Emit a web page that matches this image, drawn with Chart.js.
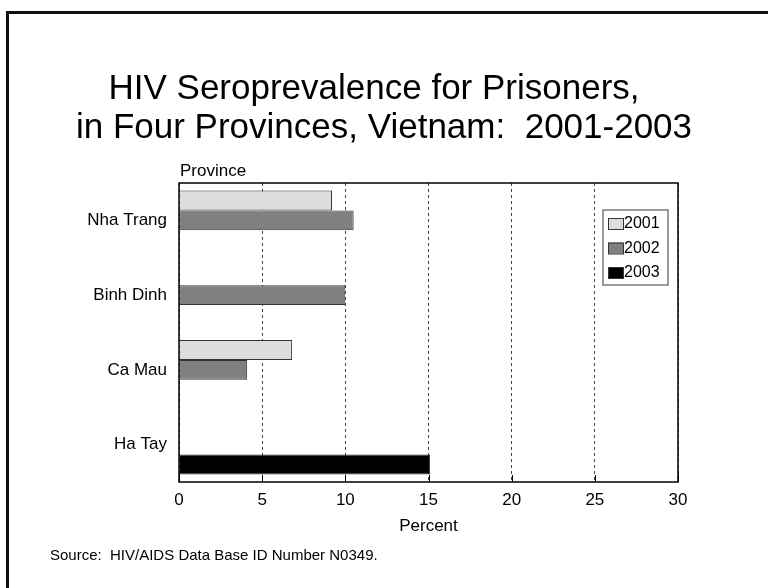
<!DOCTYPE html>
<html>
<head>
<meta charset="utf-8">
<script src="https://cdn.jsdelivr.net/npm/chart.js@4.4.1/dist/chart.umd.min.js"></script>
<style>
    html, body { margin: 0; padding: 0; background: #fff; }
    body { width: 768px; height: 588px; position: relative; overflow: hidden; font-family: "Liberation Sans", Arial, sans-serif; }
    .frame { position: absolute; left: 6px; top: 11px; width: 900px; height: 700px; border-left: 3px solid #111; border-top: 3px solid #111; }
    canvas { position: absolute; left: 0; top: 0; }
</style>
</head>
<body>
<div class="frame"></div>
<canvas id="chart" width="768" height="588"></canvas>
<script>
const provinces = ['Nha Trang', 'Binh Dinh', 'Ca Mau', 'Ha Tay'];
const years = ['2001', '2002', '2003'];
const pct2001 = [9.2, null, 6.8, null];
const pct2002 = [10.5, 10.0, 4.1, null];
const pct2003 = [null, null, null, 15.1];
const xTicks = [0, 5, 10, 15, 20, 25, 30];

const titleLines = ['HIV Seroprevalence for Prisoners,', 'in Four Provinces, Vietnam:  2001-2003'];
const sourceNote = 'Source:  HIV/AIDS Data Base ID Number N0349.';

const fills = ['#dddddd', '#808080', '#000000'];
const font = '"Liberation Sans", Arial, sans-serif';

// title, "Province" caption, source note, solid plot frame, inner tick marks, boxed legend
const decorations = {
    id: 'decorations',
    afterDraw(chart) {
        const { ctx, chartArea: a, scales } = chart;
        ctx.save();

        // frame around the plot
        ctx.strokeStyle = '#000';
        ctx.lineWidth = 1.5;
        ctx.strokeRect(a.left, a.top, a.right - a.left, a.bottom - a.top);

        // short solid ticks pointing up into the plot
        ctx.lineWidth = 1;
        xTicks.forEach(v => {
            const x = Math.round(scales.x.getPixelForValue(v)) + 0.5;
            ctx.beginPath();
            ctx.moveTo(x, a.bottom);
            ctx.lineTo(x, a.bottom - 7);
            ctx.stroke();
        });

        ctx.fillStyle = '#000';
        ctx.textBaseline = 'middle';

        ctx.font = `35px ${font}`;
        ctx.textAlign = 'center';
        ctx.fillText(titleLines[0], 374, 89);
        ctx.fillText(titleLines[1], 384, 128);

        ctx.font = `17px ${font}`;
        ctx.textAlign = 'left';
        ctx.fillText('Province', a.left + 1, a.top - 12);

        ctx.font = `15px ${font}`;
        ctx.fillText(sourceNote, 50, 556);

        // legend
        const lx = 603, ly = 210, lw = 65, lh = 75;
        ctx.strokeStyle = '#7a7a7a';
        ctx.lineWidth = 1.5;
        ctx.strokeRect(lx, ly, lw, lh);
        ctx.font = `16px ${font}`;
        chart.data.datasets.forEach((ds, i) => {
            const cy = ly + 13 + i * 24.5;
            ctx.fillStyle = ds.backgroundColor;
            ctx.fillRect(lx + 5, cy - 5, 15, 11);
            ctx.strokeStyle = '#333';
            ctx.lineWidth = 1;
            ctx.strokeRect(lx + 5.5, cy - 4.5, 15, 11);
            ctx.fillStyle = '#000';
            ctx.fillText(ds.label, lx + 21, cy + 1);
        });

        ctx.restore();
    }
};

new Chart(document.getElementById('chart'), {
    type: 'bar',
    data: {
        labels: provinces,
        datasets: [pct2001, pct2002, pct2003].map((vals, i) => ({
            label: years[i],
            data: vals,
            backgroundColor: fills[i],
            borderColor: '#333',
            borderWidth: 1,
            categoryPercentage: 0.8,
            barPercentage: 1.0,
        })),
    },
    options: {
        indexAxis: 'y',
        responsive: false,
        animation: false,
        layout: { padding: { left: 0, top: 183, right: 90, bottom: 46 } },
        plugins: {
            legend: { display: false },
            tooltip: { enabled: false },
        },
        scales: {
            x: {
                min: 0,
                max: 30,
                afterBuildTicks: s => { s.ticks = xTicks.map(v => ({ value: v })); },
                afterFit: s => { s.height = 60; },
                ticks: { color: '#000', padding: 8, font: { family: font, size: 17 } },
                grid: { color: '#444', lineWidth: 1, drawTicks: false },
                border: { display: false, dash: [3, 3] },
                title: {
                    display: true,
                    text: 'Percent',
                    color: '#000',
                    font: { family: font, size: 17 },
                    padding: { top: 4, bottom: 5 },
                },
            },
            y: {
                afterFit: s => { s.width = 179; },
                ticks: { color: '#000', padding: 4, font: { family: font, size: 17 } },
                grid: { display: false },
                border: { display: false },
            },
        },
    },
    plugins: [decorations],
});
</script>
</body>
</html>
